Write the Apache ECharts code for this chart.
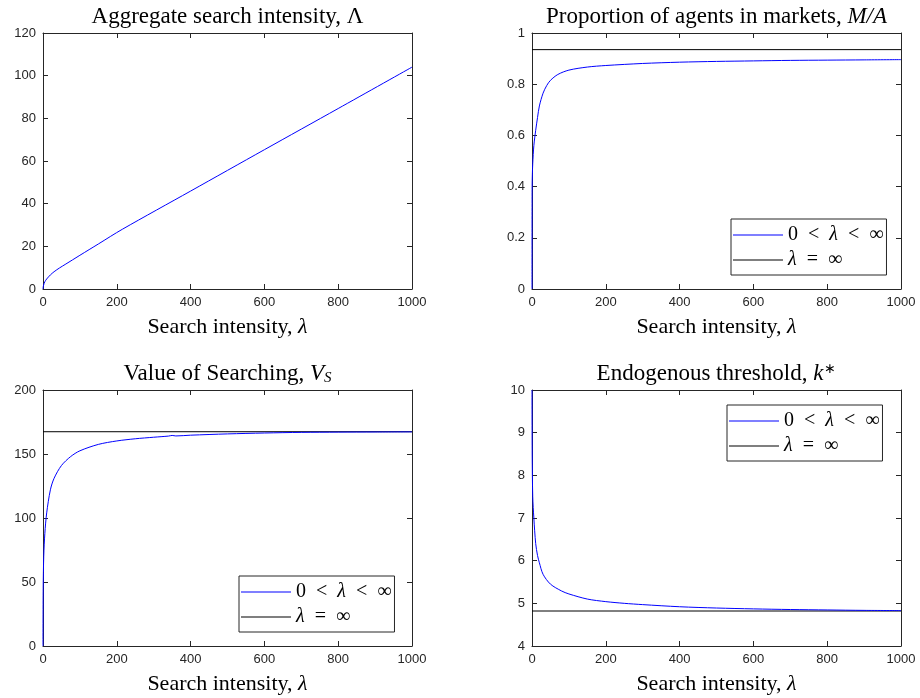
<!DOCTYPE html>
<html>
<head>
<meta charset="utf-8">
<script src="https://cdn.jsdelivr.net/npm/echarts@6/dist/echarts.min.js"></script>
<style>html,body{margin:0;padding:0;background:#fff}#c{width:920px;height:698px}</style>
</head>
<body>
<div id="c"></div>
<script>
// ---- data ----
const lamAgg = [0, 1, 3, 5, 10, 20, 30, 45, 60, 100, 150, 215, 400, 600, 800, 1000];
const aggVals = [0, 1.4, 2.6, 3.4, 4.7, 6.6, 8.1, 9.9, 11.5, 15.8, 21.1, 28.0, 45.9, 65.3, 84.6, 104];

const lamMA = [0, 0.3, 1, 2, 5, 10, 15, 20, 30, 40, 50, 70, 100, 150, 200, 300, 400, 500, 600, 700, 800, 900, 1000];
const maVals = [0, 0.40, 0.45, 0.49, 0.56, 0.62, 0.67, 0.715, 0.765, 0.795, 0.815, 0.838, 0.855, 0.867, 0.873, 0.881, 0.886, 0.889, 0.891, 0.893, 0.894, 0.895, 0.896];
const maInf = 0.935;

const lamVS = [0, 0.5, 2, 5, 10, 20, 30, 50, 75, 100, 150, 200, 250, 300, 340, 350, 360, 400, 500, 600, 700, 800, 900, 1000];
const vsVals = [0, 45, 70, 88, 104, 122, 131, 141, 148, 152.5, 157.5, 160.2, 161.9, 163.1, 164.0, 164.5, 164.1, 164.7, 165.7, 166.4, 166.9, 167.1, 167.2, 167.3];
const vsInf = 167.4;

const lamK = [0, 0.5, 2, 5, 10, 15, 20, 30, 50, 80, 100, 150, 200, 250, 300, 400, 500, 600, 700, 800, 900, 1000];
const kVals = [10, 8.5, 7.5, 7.0, 6.4, 6.12, 5.95, 5.68, 5.45, 5.29, 5.22, 5.10, 5.04, 5.00, 4.97, 4.92, 4.89, 4.87, 4.855, 4.845, 4.835, 4.83];
const kInf = 4.82;

const xTicks = {min: 0, max: 1000, interval: 200};
const yRanges = [
  {min: 0, max: 120, interval: 20},
  {min: 0, max: 1, interval: 0.2},
  {min: 0, max: 200, interval: 50},
  {min: 4, max: 10, interval: 1}
];
const titles = [
  '{r|Aggregate search intensity, Λ}',
  '{r|Proportion of agents in markets, }{i|M/A}',
  '{r|Value of Searching, }{i|V}{s|S}',
  '{r|Endogenous threshold, }{i|k}{p|∗}'
];
const legendNames = ['0 < λ < ∞', 'λ = ∞'];

// ---- layout ----
const grids = [
  {left: 43, top: 33, width: 369, height: 256},
  {left: 532, top: 33, width: 369, height: 256},
  {left: 43, top: 390, width: 369, height: 256},
  {left: 532, top: 390, width: 369, height: 256}
];
const AX = '#262626';
const SERIF = '"Liberation Serif", "Times New Roman", serif';
const SANS = '"Liberation Sans", Arial, Helvetica, sans-serif';
const FS = 23;
const NFS = 22;

const titleRich = {
  r: {fontFamily: SERIF, fontSize: FS, color: '#000'},
  i: {fontFamily: SERIF, fontSize: FS, fontStyle: 'italic', color: '#000'},
  s: {fontFamily: SERIF, fontStyle: 'italic', fontSize: 15, color: '#000', padding: [9, 0, 0, 0]},
  p: {fontFamily: SERIF, fontSize: 14, color: '#000', padding: [0, 0, 10, 1]}
};

const xAxes = [], yAxes = [];
const tickStyle = {inside: true, length: 5, lineStyle: {color: AX}};
grids.forEach((g, i) => {
  xAxes.push({
    type: 'value', gridIndex: i, ...xTicks, position: 'bottom',
    axisLine: {onZero: false, lineStyle: {color: AX, width: 1}},
    axisTick: tickStyle,
    axisLabel: {color: AX, fontFamily: SANS, fontSize: 13, margin: 7, formatter: v => String(v)},
    splitLine: {show: false},
    name: '{r|Search intensity, }{i|λ}', nameLocation: 'middle', nameGap: 27,
    nameTextStyle: {color: '#000', fontSize: NFS, fontFamily: SERIF,
      rich: {r: {fontSize: NFS, fontFamily: SERIF, color: '#000'}, i: {fontSize: NFS, fontFamily: SERIF, fontStyle: 'italic', color: '#000'}}}
  });
  xAxes.push({
    type: 'value', gridIndex: i, ...xTicks, position: 'top',
    axisLine: {onZero: false, lineStyle: {color: AX, width: 1}},
    axisTick: tickStyle,
    axisLabel: {show: false}, splitLine: {show: false}
  });
  const yr = yRanges[i];
  yAxes.push({
    type: 'value', gridIndex: i, min: yr.min, max: yr.max, interval: yr.interval, position: 'left',
    axisLine: {show: true, onZero: false, lineStyle: {color: AX, width: 1}},
    axisTick: Object.assign({show: true}, tickStyle),
    axisLabel: {color: AX, fontFamily: SANS, fontSize: 13, margin: 7, formatter: v => String(Math.round(v * 1000) / 1000)},
    splitLine: {show: false}
  });
  yAxes.push({
    type: 'value', gridIndex: i, min: yr.min, max: yr.max, interval: yr.interval, position: 'right',
    axisLine: {show: true, onZero: false, lineStyle: {color: AX, width: 1}},
    axisTick: Object.assign({show: true}, tickStyle),
    axisLabel: {show: false}, splitLine: {show: false}
  });
});

const zip = (a, b) => a.map((x, k) => [x, b[k]]);
const hline = v => [[xTicks.min, v], [xTicks.max, v]];
const BLUE = '#0000ff', BLACK = '#000000';

function curve(i, name, data, color) {
  return {
    type: 'line', name: name, xAxisIndex: 2 * i, yAxisIndex: 2 * i,
    data: data, showSymbol: false, symbol: 'none', smooth: color === BLUE ? 0.3 : false,
    lineStyle: {color: color, width: 1}, itemStyle: {color: color},
    animation: false, z: color === BLUE ? 3 : 2
  };
}

const series = [
  curve(0, 'agg', zip(lamAgg, aggVals), BLUE),
  curve(1, legendNames[0], zip(lamMA, maVals), BLUE),
  curve(1, legendNames[1], hline(maInf), BLACK),
  curve(2, legendNames[0], zip(lamVS, vsVals), BLUE),
  curve(2, legendNames[1], hline(vsInf), BLACK),
  curve(3, legendNames[0], zip(lamK, kVals), BLUE),
  curve(3, legendNames[1], hline(kInf), BLACK)
];

const LFS = 20;
const legRich = {
  r: {fontFamily: SERIF, fontSize: LFS, color: '#000'},
  i: {fontFamily: SERIF, fontSize: LFS, fontStyle: 'italic', color: '#000'}
};
const SP = '\u2002';
function legend(left, top) {
  return {
    data: [
      {name: legendNames[0], itemStyle: {color: BLUE}},
      {name: legendNames[1], itemStyle: {color: BLACK}}
    ],
    orient: 'vertical', left: left, top: top,
    icon: 'rect', itemWidth: 50, itemHeight: 1, itemGap: 5,
    padding: [6, 3, 5, 2], borderColor: AX, borderWidth: 1, backgroundColor: '#fff',
    selectedMode: false,
    formatter: n => n === legendNames[0]
      ? '{r|0' + SP + '<' + SP + '}{i|λ}{r|' + SP + '<' + SP + '∞}'
      : '{i|λ}{r|' + SP + '=' + SP + '∞}',
    textStyle: {rich: legRich, fontFamily: SERIF, fontSize: LFS}
  };
}

const option = {
  animation: false,
  backgroundColor: '#fff',
  title: titles.map((t, i) => ({
    text: t, left: grids[i].left + grids[i].width / 2, top: grids[i].top - 28, textAlign: 'center',
    padding: 0,
    textStyle: {fontFamily: SERIF, fontSize: FS, fontWeight: 'normal', color: '#000', rich: titleRich}
  })),
  grid: grids,
  xAxis: xAxes,
  yAxis: yAxes,
  legend: [legend(731, 219), legend(239, 576), legend(727, 405)],
  series: series
};

const chart = echarts.init(document.getElementById('c'), null, {renderer: 'canvas'});
chart.setOption(option);
</script>
</body>
</html>
